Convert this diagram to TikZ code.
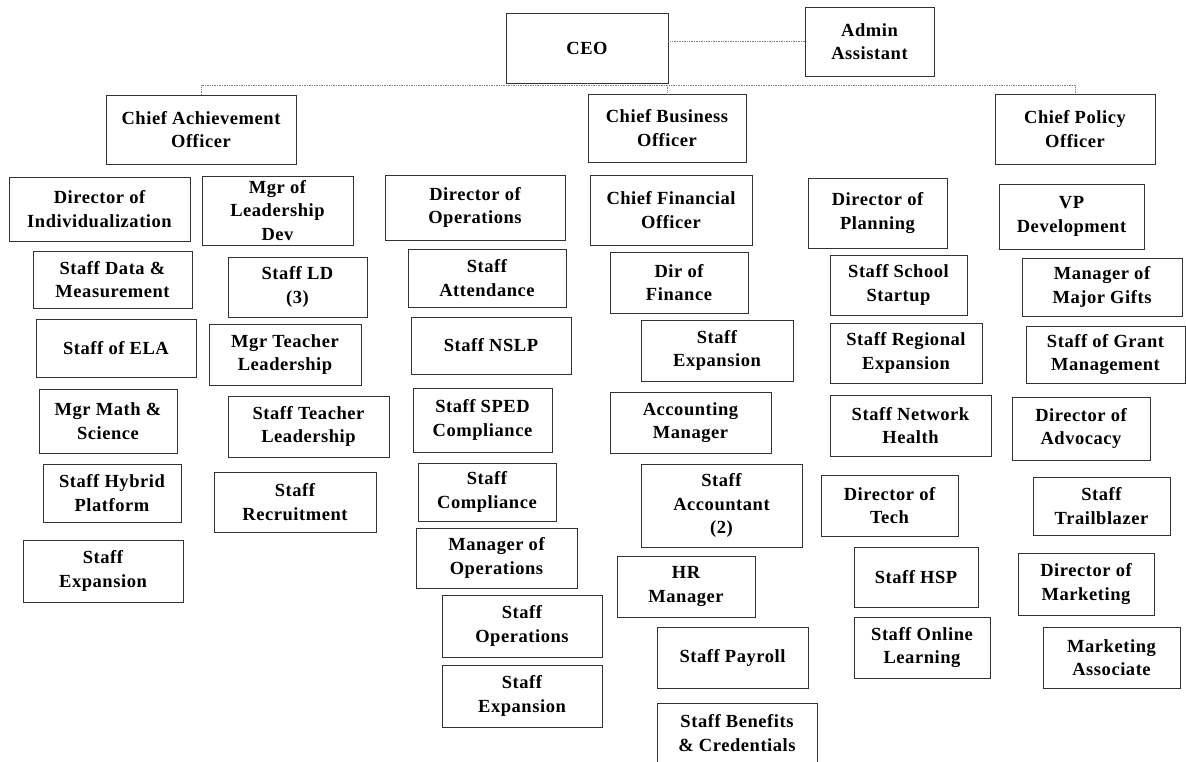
\documentclass[tikz,border=0pt]{standalone}
\usepackage{fontspec}
\setmainfont{Liberation Serif}[LetterSpace=3]
\begin{document}
\begin{tikzpicture}[x=1pt,y=-1pt,
  orgbox/.style={draw=black!80, line width=0.8pt, fill=white, inner sep=0pt,
    align=center, font=\fontsize{18.5}{23.5}\selectfont\bfseries, text=black},
  conn/.style={draw=black!50, line width=0.7pt, densely dotted}]
% box given by its corners: name, left, top, right, bottom, label
\newcommand\orgbox[6]{%
  \node[orgbox, minimum width={(#4-#2)*1pt}, minimum height={(#5-#3)*1pt}]
    (#1) at ({(#2+#4)/2},{(#3+#5)/2}) {#6};}
\useasboundingbox (0,0) rectangle (1186,761);
\clip (0,0) rectangle (1186,761);
\fill[white] (0,0) rectangle (1186,761);

% top level
\orgbox{ceo}{506}{13}{668}{83}{CEO}
\orgbox{admin}{805}{7}{934}{76}{Admin\\Assistant}
\orgbox{cao}{106}{95}{296}{164}{Chief Achievement\\Officer}
\orgbox{cbo}{588}{94}{746}{162}{Chief Business\\Officer}
\orgbox{cpo}{995}{94}{1155}{164}{Chief Policy\\Officer}

% achievement
\orgbox{indiv}{9}{177}{190}{241}{Director of\\Individualization}
\orgbox{ldmgr}{202}{176}{353}{245}{Mgr of\\Leadership\\Dev}
\orgbox{datam}{33}{251}{192}{308}{Staff Data \&\\Measurement}
\orgbox{ldstaff}{228}{257}{367}{317}{Staff LD\\(3)}
\orgbox{ela}{36}{319}{196}{377}{Staff of ELA}
\orgbox{mgrtl}{209}{324}{361}{385}{Mgr Teacher\\Leadership}
\orgbox{math}{39}{389}{177}{453}{Mgr Math \&\\Science}
\orgbox{stafftl}{228}{396}{389}{457}{Staff Teacher\\Leadership}
\orgbox{hybrid}{43}{464}{181}{522}{Staff Hybrid\\Platform}
\orgbox{recruit}{214}{472}{376}{532}{Staff\\Recruitment}
\orgbox{expa}{23}{540}{183}{602}{Staff\\Expansion}

% operations
\orgbox{dirops}{385}{175}{565}{240}{Director of\\Operations}
\orgbox{attend}{408}{249}{566}{307}{Staff\\Attendance}
\orgbox{nslp}{411}{317}{571}{374}{Staff NSLP}
\orgbox{sped}{413}{388}{552}{452}{Staff SPED\\Compliance}
\orgbox{compl}{418}{463}{556}{521}{Staff\\Compliance}
\orgbox{mgrops}{416}{528}{577}{588}{Manager of\\Operations}
\orgbox{staffops}{442}{595}{602}{657}{Staff\\Operations}
\orgbox{expb}{442}{665}{602}{727}{Staff\\Expansion}

% finance
\orgbox{cfo}{590}{175}{752}{245}{Chief Financial\\Officer}
\orgbox{dirfin}{610}{252}{748}{313}{Dir of\\Finance}
\orgbox{expc}{641}{320}{793}{381}{Staff\\Expansion}
\orgbox{acctmgr}{610}{392}{771}{453}{Accounting\\Manager}
\orgbox{acct}{641}{464}{802}{547}{Staff\\Accountant\\(2)}
\orgbox{hr}{617}{556}{755}{617}{HR\\Manager}
\orgbox{payroll}{657}{627}{808}{688}{Staff Payroll}
\orgbox{benefits}{657}{703}{817}{763}{Staff Benefits\\\& Credentials}

% planning
\orgbox{dirplan}{808}{178}{947}{248}{Director of\\Planning}
\orgbox{startup}{830}{255}{967}{315}{Staff School\\Startup}
\orgbox{regional}{830}{323}{982}{383}{Staff Regional\\Expansion}
\orgbox{network}{830}{395}{991}{456}{Staff Network\\Health}
\orgbox{dirtech}{821}{475}{958}{536}{Director of\\Tech}
\orgbox{hsp}{854}{547}{978}{607}{Staff HSP}
\orgbox{online}{854}{617}{990}{678}{Staff Online\\Learning}

% policy
\orgbox{vpdev}{999}{184}{1144}{249}{VP\\Development}
\orgbox{gifts}{1022}{258}{1182}{316}{Manager of\\Major Gifts}
\orgbox{grant}{1026}{326}{1185}{383}{Staff of Grant\\Management}
\orgbox{advocacy}{1012}{397}{1150}{460}{Director of\\Advocacy}
\orgbox{trail}{1033}{477}{1170}{535}{Staff\\Trailblazer}
\orgbox{dirmkt}{1018}{553}{1154}{615}{Director of\\Marketing}
\orgbox{mktassoc}{1043}{627}{1180}{688}{Marketing\\Associate}

% connectors
\coordinate (bus) at (0,85);
\draw[conn] (admin.west -| ceo.east) -- (admin.west);
\draw[conn] (ceo.south) -- (ceo.south |- bus);
\draw[conn] (cao.north) -- (cao.north |- bus) -- (cpo.north |- bus) -- (cpo.north);
\draw[conn] (cbo.north |- bus) -- (cbo.north);
\end{tikzpicture}
\end{document}
